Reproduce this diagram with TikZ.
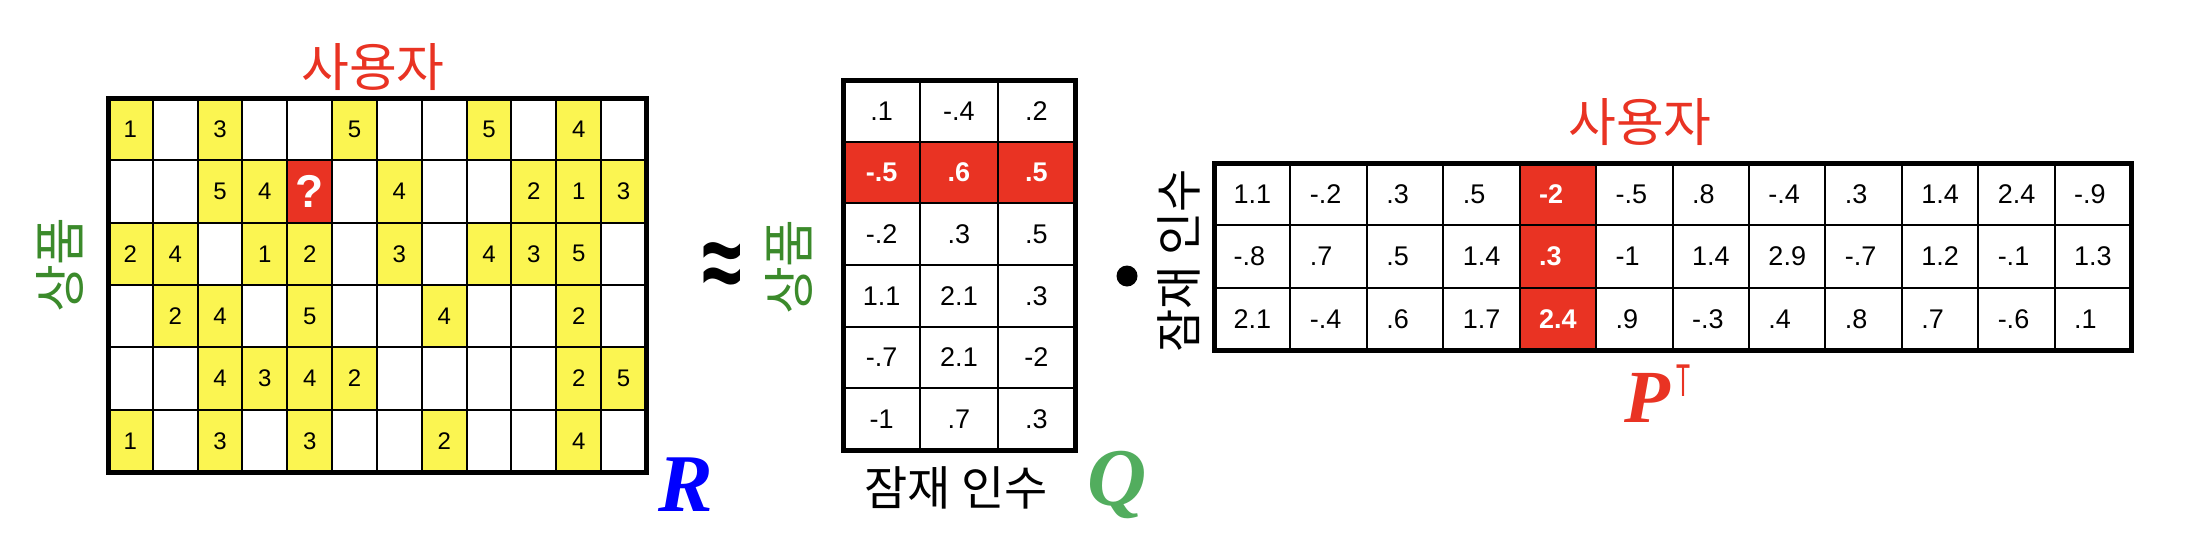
\documentclass[tikz,border=0pt]{standalone}
\usepackage{fontspec}
\setmainfont{Liberation Sans}
\newfontfamily\korfont{Noto Sans CJK KR}
\newfontfamily\letterfont{Liberation Serif}
\definecolor{cellyellow}{HTML}{FBF551}
\definecolor{hotred}{HTML}{E93323}
\definecolor{itemgreen}{HTML}{3B8A2B}
\definecolor{qgreen}{HTML}{52AD5E}
\tikzset{
  gridline/.style={black, line width=2pt},
  frame/.style={black, line width=5pt},
  rnum/.style={font=\fontsize{24}{24}\selectfont},
  qnum/.style={font=\fontsize{27}{27}\selectfont},
  pnum/.style={font=\fontsize{27}{27}\selectfont, anchor=west},
  hot/.style={text=white, font=\fontsize{27}{27}\selectfont\bfseries},
  kor/.style={font=\fontsize{52}{52}\selectfont\korfont},
  korsmall/.style={font=\fontsize{47}{47}\selectfont\korfont},
  letter/.style={font=\fontsize{82}{82}\selectfont\letterfont\bfseries\itshape},
}

\begin{document}
\begin{tikzpicture}[x=1pt,y=-1pt]
\useasboundingbox (0,0) rectangle (2188,544);

% R : ratings
\fill[hotred] (108+4*44.83,98+62.33) rectangle ++(44.83,62.33);
\foreach \r/\c/\v in {1/1/1,1/3/3,1/6/5,1/9/5,1/11/4,
  2/3/5,2/4/4,2/7/4,2/10/2,2/11/1,2/12/3,
  3/1/2,3/2/4,3/4/1,3/5/2,3/7/3,3/9/4,3/10/3,3/11/5,
  4/2/2,4/3/4,4/5/5,4/8/4,4/11/2,
  5/3/4,5/4/3,5/5/4,5/6/2,5/11/2,5/12/5,
  6/1/1,6/3/3,6/5/3,6/8/2,6/11/4}
{
  \fill[cellyellow] (108+\c*44.83-44.83,98+\r*62.33-62.33) rectangle ++(44.83,62.33);
  \node[rnum] (r\r-\c) at (108+\c*44.83-22.42,98+\r*62.33-31.17) {\v};
}
\node[hot, font=\fontsize{46}{46}\selectfont\bfseries] (ask) at (108+4.5*44.83,98+1.5*62.33) {?};
\foreach \i in {1,...,11} \draw[gridline] (108+\i*44.83,98) -- ++(0,374);
\foreach \j in {1,...,5} \draw[gridline] (108,98+\j*62.33) -- ++(538,0);
\draw[frame] (108,98) rectangle ++(538,374);
\node[kor, text=hotred] (users) at (373,67) {사용자};
\node[kor, text=itemgreen, rotate=90] (items) at (60,265) {상품};
\node[letter, text=blue] (rname) at (686,485) {R};

\node[font=\fontsize{72}{72}\selectfont\bfseries] (approx) at (722,271) {\scalebox{1}[1.5]{≈}};

% Q : items x factors
\fill[hotred] (843,80+61.67) rectangle ++(232,61.67);
\foreach \r/\c/\v in {1/1/.1,1/2/-.4,1/3/.2,
  3/1/-.2,3/2/.3,3/3/.5,
  4/1/1.1,4/2/2.1,4/3/.3,
  5/1/-.7,5/2/2.1,5/3/-2,
  6/1/-1,6/2/.7,6/3/.3}
  \node[qnum] (q\r-\c) at (843+\c*77.33-38.67,80+\r*61.67-30.83) {\v};
\foreach \c/\v in {1/-.5,2/.6,3/.5}
  \node[qnum, hot] (q2-\c) at (843+\c*77.33-38.67,80+2*61.67-30.83) {\v};
\foreach \i in {1,2} \draw[gridline] (843+\i*77.33,80) -- ++(0,370);
\foreach \j in {1,...,5} \draw[gridline] (843,80+\j*61.67) -- ++(232,0);
\draw[frame] (843,80) rectangle ++(232,370);
\node[kor, text=itemgreen, rotate=90] (items2) at (789,267) {상품};
\node[korsmall] (factors) at (956,488) {잠재 인수};
\node[letter, text=qgreen] (qname) at (1117,485) {Q};

\node[circle, fill=black, inner sep=0pt, minimum size=21pt] (dot) at (1127,276) {};

% P^T : factors x users
\fill[hotred] (1214+4*76.42,163) rectangle ++(76.42,187);
\foreach \r/\vals in {1/{1.1,-.2,.3,.5,-2,-.5,.8,-.4,.3,1.4,2.4,-.9},
  2/{-.8,.7,.5,1.4,.3,-1,1.4,2.9,-.7,1.2,-.1,1.3},
  3/{2.1,-.4,.6,1.7,2.4,.9,-.3,.4,.8,.7,-.6,.1}}
{
  \foreach \v [count=\c] in \vals {
    \ifnum\c=5
      \node[pnum, hot] (p\r-\c) at (1214+\c*76.42-60.42,163+\r*62.33-31.17) {\v};
    \else
      \node[pnum] (p\r-\c) at (1214+\c*76.42-60.42,163+\r*62.33-31.17) {\v};
    \fi
  }
}
\foreach \i in {1,...,11} \draw[gridline] (1214+\i*76.42,163) -- ++(0,187);
\foreach \j in {1,2} \draw[gridline] (1214,163+\j*62.33) -- ++(917,0);
\draw[frame] (1214,163) rectangle ++(917,187);
\node[korsmall, rotate=90] (factors2) at (1179,261) {잠재 인수};
\node[kor, text=hotred] (users2) at (1640,122) {사용자};
\node[letter, text=hotred, font=\fontsize{75}{75}\selectfont\letterfont\bfseries\itshape] (pname) at (1647,398) {P};
\node[text=hotred, font=\fontsize{46}{46}\selectfont] (ptee) at (1684,381) {\scalebox{0.5}[1]{T}};
\end{tikzpicture}
\end{document}
